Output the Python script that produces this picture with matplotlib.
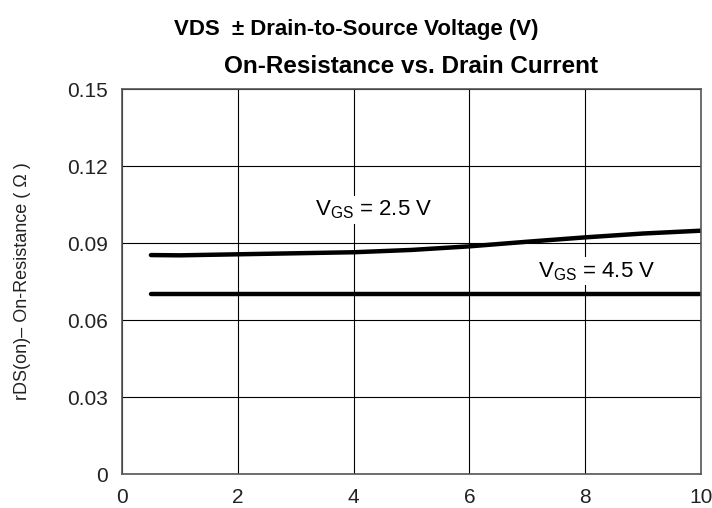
import numpy as np
import matplotlib
matplotlib.use("Agg")
import matplotlib.pyplot as plt

# drain current (A)
id_a = [0.5, 1, 2, 3, 4, 5, 6, 7, 8, 9, 10]
# on-resistance (ohm) for the two gate voltages
r_vgs25 = [0.0853, 0.0852, 0.0856, 0.0860, 0.0864, 0.0873, 0.0887, 0.0905, 0.0922, 0.0937, 0.0948]
r_vgs45 = [0.0703, 0.0703, 0.0703, 0.0703, 0.0703, 0.0703, 0.0703, 0.0703, 0.0703, 0.0703, 0.0703]

x_ticks = [0, 2, 4, 6, 8, 10]
y_ticks = [0, 0.03, 0.06, 0.09, 0.12, 0.15]
y_ticklabels = ["0", "0.03", "0.06", "0.09", "0.12", "0.15"]

plt.rcParams['font.family'] = ['Liberation Sans', 'DejaVu Sans']
plt.rcParams['mathtext.fontset'] = 'custom'
plt.rcParams['mathtext.rm'] = 'Liberation Sans'

fig = plt.figure(figsize=(7.12, 5.08), dpi=100)
ax = fig.add_axes([0.1713, 0.0669, 0.8133, 0.7579])

ax.plot(id_a, r_vgs25, color='black', lw=3.2, solid_capstyle='round')
ax.plot(id_a, r_vgs45, color='black', lw=3.2, solid_capstyle='round')

ax.set_xlim(0, 10)
ax.set_ylim(0, 0.15)
ax.set_xticks(x_ticks)
ax.set_yticks(y_ticks)
ax.set_yticklabels(y_ticklabels)
ax.tick_params(length=0, labelsize=15, pad=10, colors='#222222')
ax.grid(True, color='black', lw=0.8)
for s in ax.spines.values():
    s.set_color('#555555')
    s.set_linewidth(1.2)

# curve labels (white box cuts the grid like the original)
ax.text(4.35, 0.1029, r"V$_{\rm GS}$ = 2.5 V", fontsize=16, ha='center', va='center',
        bbox=dict(fc='white', ec='none', pad=2))
ax.text(8.2, 0.0790, r"V$_{\rm GS}$ = 4.5 V", fontsize=16, ha='center', va='center',
        bbox=dict(fc='white', ec='none', pad=2))

ax.set_ylabel("rDS(on)\u2013 On-Resistance ( \u03a9 )", fontsize=13, labelpad=26, color='#222222')

fig.text(0.577, 0.870, "On-Resistance vs. Drain Current", fontsize=17.5, fontweight='bold',
         ha='center', va='center')
fig.text(0.5, 0.942, "VDS  \u00b1 Drain-to-Source Voltage (V)", fontsize=16, fontweight='bold',
         ha='center', va='center')

fig.savefig("out.png", dpi=100)
